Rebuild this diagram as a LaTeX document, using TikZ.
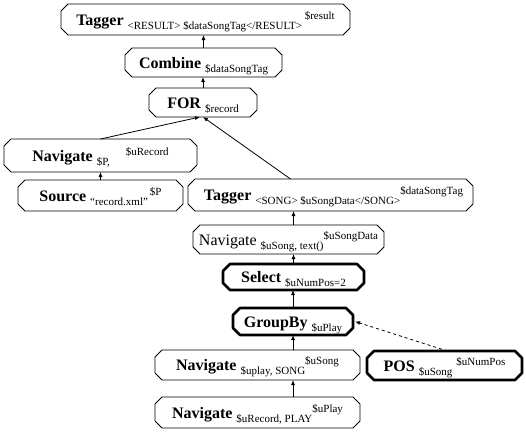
\documentclass[tikz,border=0pt]{standalone}
\usepackage{fontspec}
\setmainfont{Liberation Serif}
\usetikzlibrary{arrows.meta}
\newcommand\lsub[1]{\raisebox{-4pt}{\fontsize{11}{12}\selectfont #1}}
\newcommand\lsup[1]{\raisebox{6pt}{\fontsize{11}{12}\selectfont #1}}
\newcommand\octo[2][]{\draw[#1] ([xshift=7pt]#2.north west) -- ([xshift=-7pt]#2.north east) -- ([yshift=-7pt]#2.north east) -- ([yshift=7pt]#2.south east) -- ([xshift=-7pt]#2.south east) -- ([xshift=7pt]#2.south west) -- ([yshift=7pt]#2.south west) -- ([yshift=-7pt]#2.north west) -- cycle;}
\tikzset{
  opbox/.style={rectangle, draw=none, inner sep=0pt, outer sep=0pt, text height=14pt, text depth=3pt, font=\fontsize{16}{18}\selectfont},
  flow/.style={-{Latex[length=5pt,width=4pt]}, line width=0.8pt},
  thin/.style={line width=0.8pt},
  heavy/.style={line width=2.6pt, line join=round}
}
\begin{document}
\begin{tikzpicture}[x=1pt,y=-1pt]
\useasboundingbox (0,0) rectangle (526,434);
\node[opbox, minimum width=289pt, minimum height=31pt] (tagR) at (205.5,19.5) {\textbf{Tagger} \lsub{<RESULT> \$dataSongTag</RESULT>}\,\lsup{\$result}};
\node[opbox, minimum width=157pt, minimum height=29pt] (comb) at (203.5,62.5) {\textbf{Combine} \lsub{\$dataSongTag}};
\node[opbox, minimum width=108pt, minimum height=29pt] (for) at (203,102.5) {\textbf{FOR} \lsub{\$record}};
\node[opbox, minimum width=193pt, minimum height=33pt] (navP) at (100.5,155.5) {\textbf{Navigate} \lsub{\$P,}\hspace{16pt}\lsup{\$uRecord}};
\node[opbox, minimum width=165pt, minimum height=31pt] (src) at (100.5,195.5) {\textbf{Source} \lsub{“record.xml”}\hspace{2pt}\lsup{\$P}};
\node[opbox, minimum width=285pt, minimum height=32pt] (tagS) at (330.5,195) {\hspace*{6pt}\textbf{Tagger} \lsub{<SONG> \$uSongData</SONG>}\lsup{\$dataSongTag}};
\node[opbox, minimum width=191pt, minimum height=29pt] (navT) at (288.5,239.5) {Navigate \lsub{\$uSong, text()}\lsup{\$uSongData}};
\node[opbox, minimum width=141pt, minimum height=26pt] (sel) at (293.5,277) {\textbf{Select} \lsub{\$uNumPos=2}};
\node[opbox, minimum width=120pt, minimum height=27pt] (grp) at (293,321.5) {\textbf{GroupBy} \lsub{\$uPlay}};
\node[opbox, minimum width=205pt, minimum height=30pt] (navS) at (257.5,365) {\textbf{Navigate} \lsub{\$uplay, SONG}\lsup{\$uSong}};
\node[opbox, minimum width=205pt, minimum height=31pt] (navR) at (257.5,412.5) {\textbf{Navigate} \lsub{\$uRecord, PLAY}\lsup{\$uPlay}};
\node[opbox, minimum width=155pt, minimum height=29pt] (pos) at (444.5,365.5) {\textbf{POS} \lsub{\$uSong}\hspace{4pt}\lsup{\$uNumPos}};
\octo[thin]{tagR}
\octo[thin]{comb}
\octo[thin]{for}
\octo[thin]{navP}
\octo[thin]{src}
\octo[thin]{tagS}
\octo[thin]{navT}
\octo[heavy]{sel}
\octo[heavy]{grp}
\octo[thin]{navS}
\octo[thin]{navR}
\octo[heavy]{pos}
\draw[flow] (comb.north) -- (comb.north |- tagR.south);
\draw[flow] (for.north) -- (for.north |- comb.south);
\draw[flow] (navP.north) -- ([xshift=-3pt]for.south);
\draw[flow] ([xshift=-40pt]tagS.north) -- (for.south);
\draw[flow] (src.north) -- (navP.south);
\draw[flow] (navT.north -| sel) -- (tagS.south -| sel);
\draw[flow] (sel.north) -- (sel.north |- navT.south);
\draw[flow] (grp.north) -- (grp.north |- sel.south);
\draw[flow] (navS.north -| grp) -- (grp.south);
\draw[flow] (navR.north -| grp) -- (navS.south -| grp);
\draw[flow, dashed] ([xshift=3pt]pos.north) -- ([xshift=2pt]grp.east);
\end{tikzpicture}
\end{document}
